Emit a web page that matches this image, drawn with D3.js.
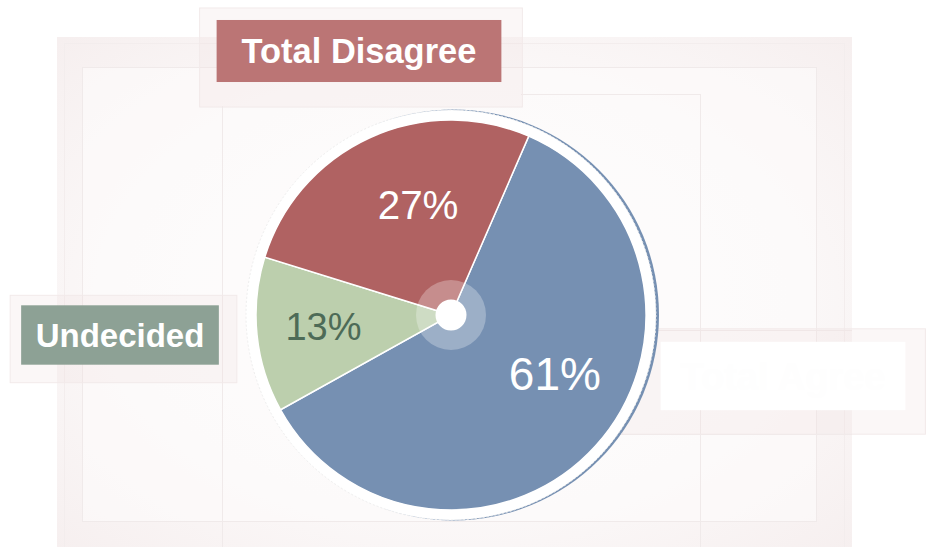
<!DOCTYPE html>
<html>
<head>
<meta charset="utf-8">
<script src="https://cdn.jsdelivr.net/npm/d3@7"></script>
<style>
  body { margin: 0; background: #fff; }
  svg { display: block; }
</style>
</head>
<body>
<div id="viz"></div>
<script>
// data
const categories = ["Total Agree", "Undecided", "Total Disagree"]
const values = [61, 13, 27]
const sliceColors = ["#7690b2", "#bccfad", "#b06262"]
const pctColors = ["#ffffff", "#4d6b57", "#ffffff"]
const boxColors = ["#ffffff", "#8da195", "#bb7575"]

// where each category tag sits, relative to the pie centre: [dx, dy, extra box width]
const tagLayout = {
    "Total Agree": [332, 61, 40],
    "Undecided": [-331, 20, 29],
    "Total Disagree": [-92, -264, 50]
}
// small hand nudges for the % labels: [degrees, radius]
const pctNudge = {
    "Total Agree": [-13, 119],
    "Undecided": [1, 128],
    "Total Disagree": [8, 115]
}

const width = 928
const height = 547
const cx = 451, cy = 315
const radius = 195

const svg = d3.select("#viz").append("svg").attr("width", width).attr("height", height)
const defs = svg.append("defs")

const grad = defs.append("radialGradient").attr("id", "bg").attr("cx", "50%").attr("cy", "50%").attr("r", "70%")
grad.append("stop").attr("offset", "0%").attr("stop-color", "#fefdfd")
grad.append("stop").attr("offset", "60%").attr("stop-color", "#fbf8f8")
grad.append("stop").attr("offset", "100%").attr("stop-color", "#f6efef")

// faint background frames
const bg = svg.append("g")
bg.append("rect").attr("x", 57).attr("y", 37).attr("width", 795).attr("height", 520)
    .attr("fill", "url(#bg)")
bg.append("rect").attr("x", 64.5).attr("y", 43.5).attr("width", 780).attr("height", 520)
    .attr("fill", "none").attr("stroke", "#f3eded")
bg.append("rect").attr("x", 82.5).attr("y", 67.5).attr("width", 734).attr("height", 454)
    .attr("fill", "#fdfcfc").attr("fill-opacity", 0.6).attr("stroke", "#f0eaea")
bg.append("path").attr("d", "M222.5,106V547M700.5,94V547M521,94.5H700.5M620,434.5H852M620,330.5H852")
    .attr("fill", "none").attr("stroke", "#f0eaea")

// shadow panels behind tags: [left, top, right, bottom]
const panelPad = {
    "Total Agree": [38, 13, 20, 24],
    "Undecided": [11, 10, 18, 18],
    "Total Disagree": [17, 12, 21, 25]
}

const pie = d3.pie().sort(null).value(d => d)
    .startAngle(23.5 * Math.PI / 180)
    .endAngle(23.5 * Math.PI / 180 + 2 * Math.PI)
const arcs = pie(values)

const fontScale = d3.scaleLinear().domain(d3.extent(values)).range([38, 46])
const tagFont = d3.scaleLinear().domain(d3.extent(values)).range([33, 38])

const tags = svg.append("g")
categories.forEach((c, i) => {
    const fs = tagFont(values[i])
    const lay = tagLayout[c]
    const t = tags.append("text").text(c)
        .attr("font-family", "Liberation Sans, Arial, sans-serif")
        .attr("font-weight", "bold")
        .attr("font-size", fs)
        .attr("fill", i === 0 ? "#fefefe" : "#fff")
        .attr("text-anchor", "middle")
    const w = t.node().getComputedTextLength() + lay[2]
    const h = fs * 1.8
    const x = cx + lay[0] - w / 2
    const y = cy + lay[1] - h / 2
    const p = panelPad[c]
    tags.insert("rect", "text")
        .attr("x", x - p[0]).attr("y", y - p[1])
        .attr("width", w + p[0] + p[2]).attr("height", h + p[1] + p[3])
        .attr("fill", "#efe0e0").attr("fill-opacity", 0.25)
        .attr("stroke", "#f2eaea")
    tags.insert("rect", "text")
        .attr("x", x).attr("y", y).attr("width", w).attr("height", h)
        .attr("fill", boxColors[i])
    t.attr("x", cx + lay[0]).attr("y", cy + lay[1] + fs * 0.36)
})

const g = svg.append("g").attr("transform", `translate(${cx},${cy})`)

// white rim with blue edge
g.append("circle").attr("cx", 2.5).attr("cy", 0).attr("r", 205.5).attr("fill", "#7690b2")
g.append("circle").attr("r", 205).attr("fill", "#fff").attr("stroke", "#eeeeee").attr("stroke-dasharray", "2,2")

const arc = d3.arc().innerRadius(0).outerRadius(radius)
g.selectAll("path.slice")
    .data(arcs)
    .join("path")
    .attr("class", "slice")
    .attr("d", arc)
    .attr("fill", (d, i) => sliceColors[i])
    .attr("stroke", "#fff")
    .attr("stroke-width", 1.5)

// hub
g.append("circle").attr("r", 35).attr("fill", "#fff").attr("fill-opacity", 0.28)
g.append("circle").attr("r", 15.5).attr("fill", "#fff")

g.selectAll("text.pct")
    .data(arcs)
    .join("text")
    .attr("class", "pct")
    .attr("transform", (d, i) => {
        const n = pctNudge[categories[i]]
        const a = (d.startAngle + d.endAngle) / 2 + n[0] * Math.PI / 180
        return `translate(${n[1] * Math.sin(a)},${-n[1] * Math.cos(a)})`
    })
    .attr("text-anchor", "middle")
    .attr("dy", "0.36em")
    .attr("font-family", "Liberation Sans, Arial, sans-serif")
    .attr("font-size", d => fontScale(d.data))
    .attr("fill", (d, i) => pctColors[i])
    .text(d => d.data + "%")
</script>
</body>
</html>
